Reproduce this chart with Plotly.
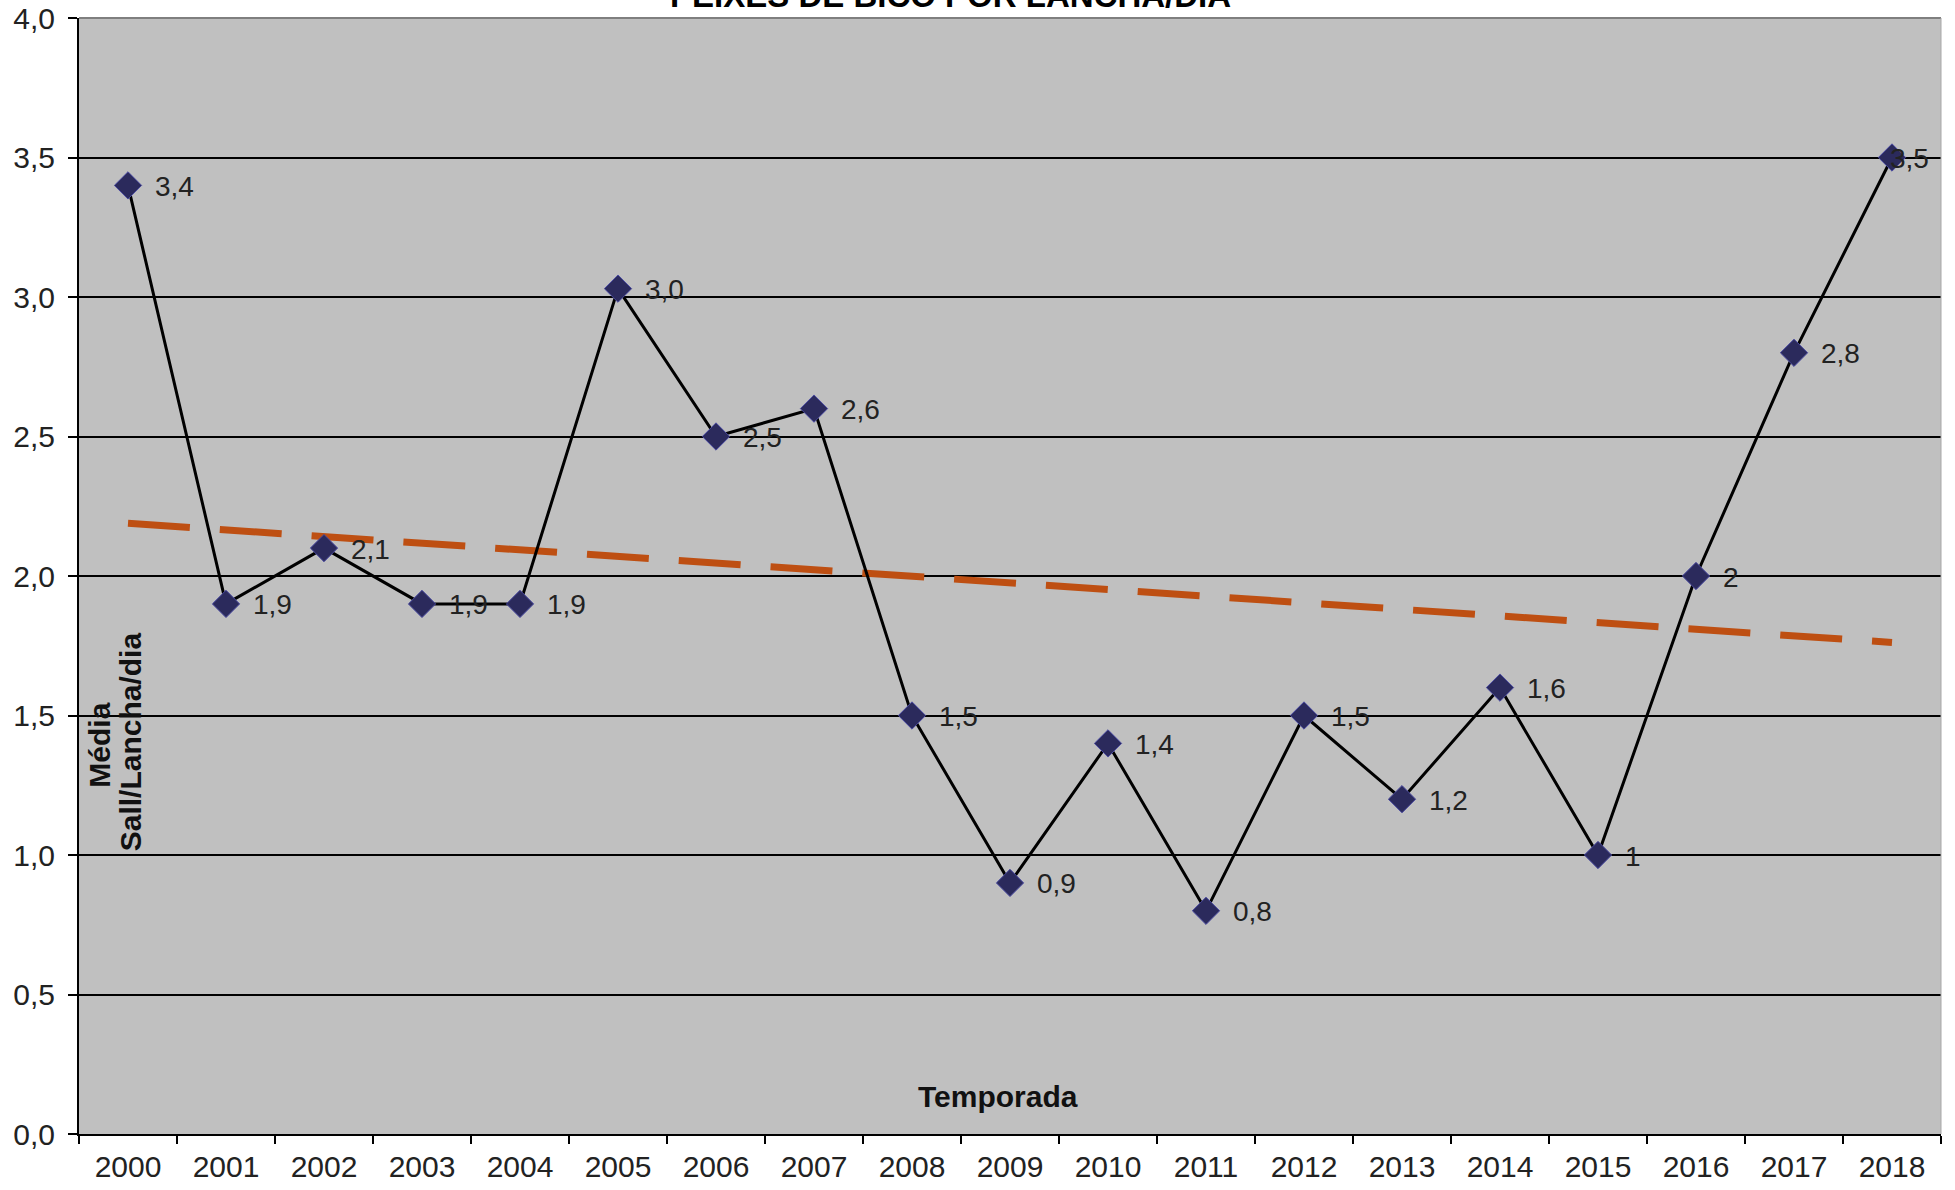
import numpy as np
import plotly.graph_objects as go

# ---- data ----
seasons = ["2000", "2001", "2002", "2003", "2004", "2005", "2006", "2007", "2008", "2009",
           "2010", "2011", "2012", "2013", "2014", "2015", "2016", "2017", "2018"]
media = [3.4, 1.9, 2.1, 1.9, 1.9, 3.03, 2.5, 2.6, 1.5, 0.9,
         1.4, 0.8, 1.5, 1.2, 1.6, 1.0, 2.0, 2.8, 3.5]
point_labels = ["3,4", "1,9", "2,1", "1,9", "1,9", "3,0", "2,5", "2,6", "1,5", "0,9",
                "1,4", "0,8", "1,5", "1,2", "1,6", "1", "2", "2,8", "3,5"]
y_ticks = [0.0, 0.5, 1.0, 1.5, 2.0, 2.5, 3.0, 3.5, 4.0]

title_text = "PEIXES DE BICO POR LANCHA/DIA"
y_title_lines = ["Média", "Sall/Lancha/dia"]
x_title = "Temporada"

# linear trend of the series
idx = np.arange(len(media))
slope, intercept = np.polyfit(idx, media, 1)
trend = [intercept + slope * idx[0], intercept + slope * idx[-1]]

FONT = "Liberation Sans, Arial, sans-serif"
W, H = 1955, 1190
ML, MR, MT, MB = 79, 14, 18, 56

fig = go.Figure()

# trend line
fig.add_trace(go.Scatter(
    x=[seasons[0], seasons[-1]], y=trend, mode="lines",
    line=dict(color="#BE4F12", width=7, dash="62px,30px"),
    hoverinfo="skip", showlegend=False))

# main series
fig.add_trace(go.Scatter(
    x=seasons, y=media, mode="lines+markers",
    line=dict(color="#000000", width=3),
    marker=dict(symbol="diamond", size=21, color="#2B2A5C",
                line=dict(color="#4A4AA0", width=1)),
    showlegend=False))

# point labels (x given as category index)
for i, (v, t) in enumerate(zip(media, point_labels)):
    last = i == len(media) - 1
    fig.add_annotation(x=i, y=v, xref="x", yref="y", text=t, showarrow=False,
                       xanchor="left", yanchor="middle",
                       xshift=(-4 if last else 25), yshift=-1,
                       font=dict(family=FONT, size=28, color="#222222"))

# title (cut at top like the reference)
fig.add_annotation(x=0.468, y=1.0, xref="paper", yref="paper", text="<b>" + title_text + "</b>",
                   showarrow=False, xanchor="center", yanchor="bottom", yshift=2,
                   font=dict(family=FONT, size=33, color="#000000"))

# y title inside plot (two rotated lines)
fig.add_annotation(x=0.0113, y=0.348, xref="paper", yref="paper", text="<b>" + y_title_lines[0] + "</b>",
                   showarrow=False, textangle=-90, xanchor="center", yanchor="middle",
                   font=dict(family=FONT, size=30, color="#111111"))
fig.add_annotation(x=0.0274, y=0.351, xref="paper", yref="paper", text="<b>" + y_title_lines[1] + "</b>",
                   showarrow=False, textangle=-90, xanchor="center", yanchor="middle",
                   font=dict(family=FONT, size=30, color="#111111"))

# x title inside plot
fig.add_annotation(x=0.4935, y=0.034, xref="paper", yref="paper", text="<b>" + x_title + "</b>",
                   showarrow=False, xanchor="center", yanchor="middle",
                   font=dict(family=FONT, size=30, color="#111111"))

# top and right border of plot area
fig.add_shape(type="line", xref="paper", yref="paper", x0=0, x1=1, y0=1, y1=1,
              line=dict(color="#7F7F7F", width=2))
fig.add_shape(type="line", xref="paper", yref="paper", x0=1, x1=1, y0=0, y1=1,
              line=dict(color="#A8A8A8", width=1))

fig.update_layout(
    width=W, height=H,
    margin=dict(l=ML, r=MR, t=MT, b=MB, pad=0, autoexpand=False),
    paper_bgcolor="#FFFFFF", plot_bgcolor="#C0C0C0",
    separators=",.",
    font=dict(family=FONT, size=28, color="#222222"),
    showlegend=False,
)
fig.update_xaxes(
    type="category", categoryorder="array", categoryarray=seasons,
    range=[-0.5, len(seasons) - 0.5], automargin=False,
    showgrid=False, zeroline=False,
    showline=True, linecolor="#000000", linewidth=2,
    ticks="outside", tickson="boundaries", ticklen=8, tickwidth=2, tickcolor="#000000",
    tickfont=dict(family=FONT, size=30, color="#222222"),
    ticklabelstandoff=5, ticklabeloverflow="allow",
)
fig.update_yaxes(
    range=[0, 4], tickvals=y_ticks, tickformat=".1f", automargin=False,
    showgrid=True, gridcolor="#000000", gridwidth=2, zeroline=False,
    showline=True, linecolor="#000000", linewidth=2,
    ticks="outside", ticklen=9, tickwidth=2, tickcolor="#000000",
    tickfont=dict(family=FONT, size=30, color="#222222"),
    ticklabelstandoff=7, ticklabeloverflow="allow",
)

# remove the default 8px page margin so the figure fills the window exactly
fig.write_html("out.html",
               config={"displayModeBar": False},
               post_script="document.body.style.margin='0px';document.body.style.overflow='hidden';")
